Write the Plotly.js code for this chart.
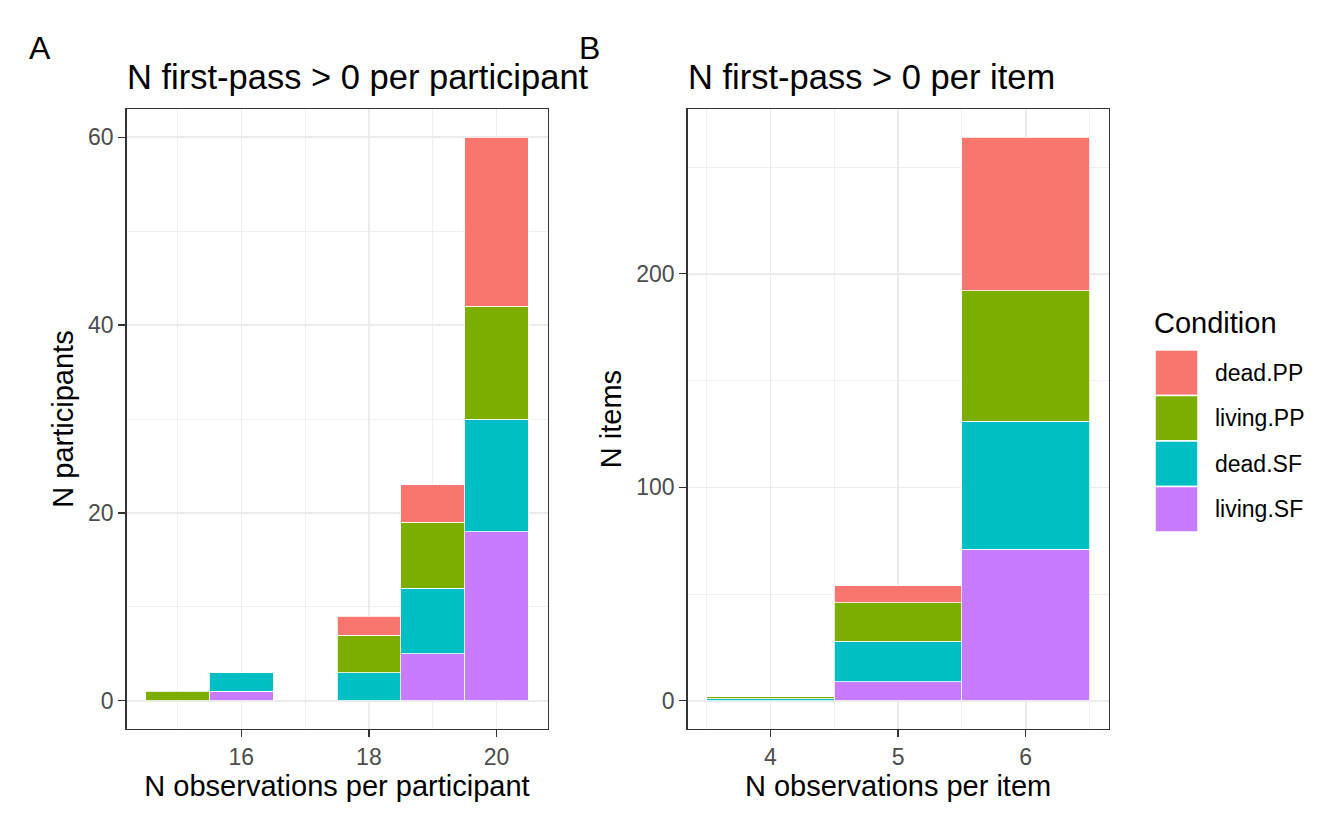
<!DOCTYPE html>
<html>
<head>
<meta charset="utf-8">
<script src="https://cdn.plot.ly/plotly-3.0.1.min.js"></script>
<style>
  html, body { margin: 0; padding: 0; background: #fff; }
  #chart { width: 1344px; height: 830px; }
</style>
</head>
<body>
<div id="chart"></div>
<script>
// legend / stacking order (legend top to bottom)
const conditions = ['dead.PP', 'living.PP', 'dead.SF', 'living.SF'];
const condColors = ['#F8766D', '#7CAE00', '#00BFC4', '#C77CFF'];

// panel A: observations per participant
const obsA = [15, 16, 18, 19, 20];
const deadPP_A   = [0, 0, 2, 4, 18];
const livingPP_A = [1, 0, 4, 7, 12];
const deadSF_A   = [0, 2, 3, 7, 12];
const livingSF_A = [0, 1, 0, 5, 18];

// panel B: observations per item
const obsB = [4, 5, 6];
const deadPP_B   = [0, 8, 72];
const livingPP_B = [1, 18, 61];
const deadSF_B   = [1, 19, 60];
const livingSF_B = [0, 9, 71];

const ticksA = [16, 18, 20];
const ticksAy = [0, 20, 40, 60];
const ticksB = [4, 5, 6];
const ticksBy = [0, 100, 200];

const FONT = 'Liberation Sans, Arial, sans-serif';

// zero counts -> no bar at all
const nz = arr => arr.map(v => v === 0 ? null : v);

const seriesA = [deadPP_A, livingPP_A, deadSF_A, livingSF_A];
const seriesB = [deadPP_B, livingPP_B, deadSF_B, livingSF_B];

const data = [];
// add bottom layer first so the stack matches ggplot
for (let i = conditions.length - 1; i >= 0; i--) {
    data.push({
        x: obsA, y: nz(seriesA[i]), type: 'bar', name: conditions[i],
        xaxis: 'x', yaxis: 'y', width: 1,
        marker: {color: condColors[i], line: {color: '#fff', width: 0.8}},
        showlegend: false, hoverinfo: 'x+y+name'
    });
    data.push({
        x: obsB, y: nz(seriesB[i]), type: 'bar', name: conditions[i],
        xaxis: 'x2', yaxis: 'y2', width: 1,
        marker: {color: condColors[i], line: {color: '#fff', width: 0.8}},
        showlegend: false, hoverinfo: 'x+y+name'
    });
}

const px = v => v / 1344;
const py = v => 1 - v / 830;

const baseAxis = {
    showline: true, mirror: true, linecolor: '#333333', linewidth: 1.3,
    ticks: 'outside', ticklen: 7, tickwidth: 1.3, tickcolor: '#333333',
    tickfont: {family: FONT, size: 23, color: '#4D4D4D'},
    showgrid: true, gridcolor: '#EBEBEB', gridwidth: 1.6,
    zeroline: false, fixedrange: true
};

const titleFont = {family: FONT, size: 29, color: '#000'};

const layout = {
    width: 1344, height: 830,
    margin: {l: 0, r: 0, t: 0, b: 0},
    paper_bgcolor: '#fff', plot_bgcolor: '#fff',
    barmode: 'stack', bargap: 0,
    showlegend: false,
    xaxis: Object.assign({}, baseAxis, {
        domain: [px(126.5), px(547.5)], range: [14.2, 20.8],
        tickvals: ticksA, ticktext: ticksA.map(String),
        minor: {dtick: 1, tick0: 15, showgrid: true, gridcolor: '#EBEBEB', gridwidth: 0.8, ticks: ''},
        title: {text: 'N observations per participant', font: titleFont, standoff: 5},
        anchor: 'y'
    }),
    yaxis: Object.assign({}, baseAxis, {
        domain: [py(729), py(109)], range: [-3, 63],
        tickvals: ticksAy, ticktext: ticksAy.map(String),
        minor: {dtick: 10, tick0: 0, showgrid: true, gridcolor: '#EBEBEB', gridwidth: 0.8, ticks: ''},
        title: {text: 'N participants', font: titleFont, standoff: 6},
        anchor: 'x'
    }),
    xaxis2: Object.assign({}, baseAxis, {
        domain: [px(687.5), px(1108.7)], range: [3.35, 6.65],
        tickvals: ticksB, ticktext: ticksB.map(String),
        minor: {dtick: 1, tick0: 3.5, showgrid: true, gridcolor: '#EBEBEB', gridwidth: 0.8, ticks: ''},
        title: {text: 'N observations per item', font: titleFont, standoff: 5},
        anchor: 'y2'
    }),
    yaxis2: Object.assign({}, baseAxis, {
        domain: [py(729), py(109)], range: [-13.2, 277.2],
        tickvals: ticksBy, ticktext: ticksBy.map(String),
        minor: {dtick: 50, tick0: 0, showgrid: true, gridcolor: '#EBEBEB', gridwidth: 0.8, ticks: ''},
        title: {text: 'N items', font: titleFont, standoff: 6},
        anchor: 'x2'
    }),
    shapes: [],
    annotations: [
        {text: 'A', x: px(40), y: py(48), xref: 'paper', yref: 'paper',
         xanchor: 'center', yanchor: 'middle', showarrow: false,
         font: {family: FONT, size: 32, color: '#000'}},
        {text: 'B', x: px(589), y: py(48), xref: 'paper', yref: 'paper',
         xanchor: 'center', yanchor: 'middle', showarrow: false,
         font: {family: FONT, size: 32, color: '#000'}},
        {text: 'N first-pass > 0 per participant', x: px(125), y: py(77), xref: 'paper', yref: 'paper',
         xanchor: 'left', yanchor: 'middle', showarrow: false,
         font: {family: FONT, size: 34.5, color: '#000'}},
        {text: 'N first-pass > 0 per item', x: px(686), y: py(77), xref: 'paper', yref: 'paper',
         xanchor: 'left', yanchor: 'middle', showarrow: false,
         font: {family: FONT, size: 34.5, color: '#000'}},
        {text: 'Condition', x: px(1152), y: py(323), xref: 'paper', yref: 'paper',
         xanchor: 'left', yanchor: 'middle', showarrow: false,
         font: {family: FONT, size: 29, color: '#000'}}
    ]
};

// legend keys drawn as boxes next to the plots
const keyTop = 350, keyH = 45.5;
conditions.forEach((c, i) => {
    const y0 = keyTop + i * keyH;
    layout.shapes.push({
        type: 'rect', xref: 'paper', yref: 'paper',
        x0: px(1155), x1: px(1198), y0: py(y0), y1: py(y0 + keyH),
        fillcolor: condColors[i], line: {color: '#fff', width: 1.5}
    });
    layout.annotations.push({
        text: c, x: px(1213), y: py(y0 + keyH / 2), xref: 'paper', yref: 'paper',
        xanchor: 'left', yanchor: 'middle', showarrow: false,
        font: {family: FONT, size: 23, color: '#000'}
    });
});

Plotly.newPlot('chart', data, layout, {displayModeBar: false, staticPlot: true});
</script>
</body>
</html>
